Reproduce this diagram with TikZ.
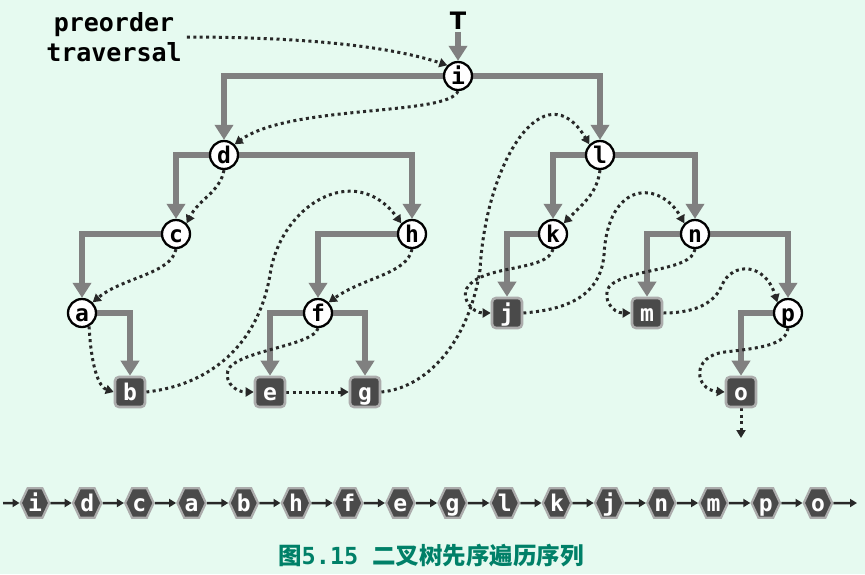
\documentclass[tikz,border=0pt]{standalone}
\usepackage{fontspec}
\setmonofont{DejaVu Sans Mono}
\newfontfamily\cjk{Noto Sans CJK SC}
\newfontfamily\dvsans{DejaVu Sans}
\usetikzlibrary{arrows.meta,shapes.symbols}
\definecolor{bgc}{RGB}{230,250,240}
\definecolor{edgegray}{RGB}{128,128,128}
\definecolor{dotc}{RGB}{40,40,40}
\definecolor{boxfill}{RGB}{74,74,74}
\definecolor{boxline}{RGB}{172,172,172}
\definecolor{capc}{RGB}{0,128,104}
\pgfdeclarelayer{bgl}
\pgfdeclarelayer{back}
\pgfsetlayers{bgl,back,main}
\tikzset{
  lettr/.style={font=\ttfamily\bfseries\fontsize{23}{23}\selectfont,text height=17pt,text depth=0pt,inner sep=0pt},
  inode/.style={lettr,circle,draw=black,line width=2.3pt,fill=white,minimum size=28pt},
  leaf/.style={lettr,rectangle,rounded corners=4pt,draw=boxline,line width=2.6pt,fill=boxfill,text=white,minimum size=30pt},
  hexnode/.style={lettr,signal,signal to=east and west,signal pointer angle=130,draw=boxline,line width=2.2pt,fill=boxfill,text=white,minimum width=28.5pt,minimum height=29.5pt},
  tree/.style={draw=edgegray,line width=6pt,line join=miter,-{Triangle[width=18pt,length=15pt]}},
  trav/.style={draw=dotc,line width=3pt,dash pattern=on 3pt off 3.4pt,-{Triangle[width=9pt,length=8pt]}},
  seq/.style={draw=dotc,line width=2.5pt,-{Triangle[width=8pt,length=7pt]}}
}
\begin{document}
\begin{tikzpicture}[x=1pt,y=-1pt]
\begin{pgfonlayer}{bgl}
\fill[bgc] (0,0) rectangle (865,574);
\end{pgfonlayer}
\useasboundingbox (0,0) rectangle (865,574);

% labels
\node[font=\ttfamily\bfseries\fontsize{25}{30}\selectfont,align=center,inner sep=5pt] (lab) at (114,37) {preorder\\traversal};
\node[font=\dvsans\bfseries\fontsize{24}{24}\selectfont,inner sep=2pt] (T) at (458,21) {T};

% internal nodes
\node[inode] (i) at (458,76) {i};
\node[inode] (d) at (224,155) {d};
\node[inode] (l) at (600,155) {l};
\node[inode] (c) at (176,234) {c};
\node[inode] (h) at (412,234) {h};
\node[inode] (k) at (553,234) {k};
\node[inode] (n) at (695,234) {n};
\node[inode] (a) at (82,313) {a};
\node[inode] (f) at (318,313) {f};
\node[inode] (p) at (788,313) {p};
% leaves
\node[leaf] (j) at (507,313) {j};
\node[leaf] (m) at (647,313) {m};
\node[leaf] (b) at (130,392) {b};
\node[leaf] (e) at (270,392) {e};
\node[leaf] (g) at (365,392) {g};
\node[leaf] (o) at (741,392) {o};
\coordinate (oend) at (741,438);

% sequence
\foreach \t [count=\k] in {i,d,c,a,b,h,f,e,g,l,k,j,n,m,p,o}
  \node[hexnode] (s\k) at ({35+52.2*(\k-1)},503) {\t};
\coordinate (sst) at (3,503);
\coordinate (send) at (857,503);

% caption
\node[text=capc,inner sep=0pt,font=\fontsize{23.5}{26}\selectfont] (cap) at (431,556)
  {{\cjk\bfseries 图}{\ttfamily\bfseries 5.15}\hspace{14pt}{\cjk\bfseries 二叉树先序遍历序列}};

\begin{pgfonlayer}{back}
% tree edges
\draw[tree] (T) -- (i);
\draw[tree] (i) -| (d);
\draw[tree] (i) -| (l);
\draw[tree] (d) -| (c);
\draw[tree] (d) -| (h);
\draw[tree] (c) -| (a);
\draw[tree] (a) -| (b);
\draw[tree] (h) -| (f);
\draw[tree] (f) -| (e);
\draw[tree] (f) -| (g);
\draw[tree] (l) -| (k);
\draw[tree] (l) -| (n);
\draw[tree] (k) -| (j);
\draw[tree] (n) -| (m);
\draw[tree] (n) -| (p);
\draw[tree] (p) -| (o);

% traversal
\draw[trav] (lab.east) .. controls +(110,0) and +(-60,-20) .. (i.north west);
\draw[trav] (i.south) .. controls +(-10,25) and +(55,-40) .. (d.north east);
\draw[trav] (d.south) .. controls +(-4,22) and +(12,-24) .. (c.north east);
\draw[trav] (c.south) .. controls +(-5,25) and +(30,-25) .. (a.north east);
\draw[trav] (a.-62) .. controls +(2,40) and +(-15,-5) .. (b.west);
\draw[trav] (b.east) .. controls (210,385) and (258,345) .. (270,275)
                     .. controls (280,205) and (355,160) .. (h.north west);
\draw[trav] (h.south) .. controls +(-5,25) and +(35,-25) .. (f.north east);
\draw[trav] (f.south) .. controls (314,345) and (245,350) .. (230,367)
                     .. controls (222,377) and (232,392) .. (e.west);
\draw[trav] (e) -- (g);
\draw[trav] (g.east) .. controls (425,388) and (468,345) .. (480,270)
                     .. controls (486,160) and (545,70) .. (l.north west);
\draw[trav] (l.south) .. controls +(-3,22) and +(22,-22) .. (k.north east);
\draw[trav] (k.south) .. controls (548,272) and (482,264) .. (467,288)
                     .. controls (461,298) and (472,313) .. (j.west);
\draw[trav] (j.east) .. controls (560,310) and (600,300) .. (604,255)
                     .. controls (608,180) and (660,180) .. (n.north west);
\draw[trav] (n.south) .. controls (692,272) and (625,268) .. (609,287)
                     .. controls (602,298) and (612,313) .. (m.west);
\draw[trav] (m.east) .. controls (700,313) and (716,300) .. (722,285)
                     .. controls (732,262) and (765,262) .. (p.north west);
\draw[trav] (p.south) .. controls (786,345) and (760,348) .. (725,352)
                     .. controls (690,356) and (695,390) .. (o.west);
\draw[trav] (o.south) -- (oend);

% sequence arrows
\draw[seq] (sst) -- (s1);
\foreach \x/\y in {1/2,2/3,3/4,4/5,5/6,6/7,7/8,8/9,9/10,10/11,11/12,12/13,13/14,14/15,15/16}
  \draw[seq] (s\x) -- (s\y);
\draw[seq] (s16) -- (send);
\end{pgfonlayer}
\end{tikzpicture}
\end{document}
